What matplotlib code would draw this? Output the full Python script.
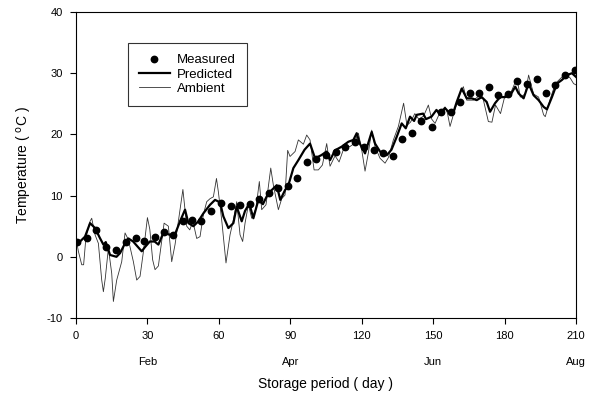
import matplotlib
matplotlib.use("Agg")
import matplotlib.pyplot as plt

plt.rcParams['font.family'] = ['Liberation Sans', 'DejaVu Sans']
plt.rcParams['axes.unicode_minus'] = False

# measured points (day, temperature)
meas_day = [0.5, 4.5, 8.5, 12.5, 17, 21, 25, 28.7, 33, 37, 40.6, 44.8, 48.7,
            52.7, 56.8, 60.8, 65, 69, 73, 77, 81, 85, 89, 93, 97, 101, 105,
            109, 113, 117, 121, 125, 129, 133, 137, 141, 145, 149.5, 153.5,
            157.3, 161.3, 165.3, 169.2, 173.3, 177.4, 181.4, 185.4, 189.6,
            193.6, 197.5, 201.3, 205.3, 209.5]
meas_temp = [2.5, 3.1, 4.4, 1.6, 1.1, 2.5, 3.0, 2.6, 3.2, 4.0, 3.5, 5.8, 6.0,
             5.8, 7.5, 8.8, 8.3, 8.5, 8.7, 9.4, 10.4, 11.3, 11.6, 12.8, 15.5,
             16.0, 16.7, 17.2, 18.0, 18.8, 18.0, 17.4, 17.0, 16.5, 19.2, 20.2,
             22.2, 21.2, 23.7, 23.6, 25.3, 26.7, 26.8, 27.7, 26.5, 26.6, 28.8,
             28.3, 29.0, 26.8, 28.1, 29.7, 30.6]

# predicted storage temperature
pred_day = [0, 1.7, 3.8, 5.9, 8, 10, 11.5, 12.5, 14.3, 17, 18.5, 20.6, 22, 24,
            27.6, 29, 31, 33, 34.6, 36.7, 39.5, 41.5, 43.7, 45.8, 47.2, 49.3,
            51.4, 53.5, 56.3, 58.4, 60.5, 61.9, 64, 66.1, 67.5, 69.6, 71, 72.8,
            74.5, 76.6, 78.5, 80.4, 82.2, 84.3, 85.8, 87.8, 89.2, 91.3, 93.4,
            96, 98.3, 100.4, 103, 105.3, 106.7, 108.8, 111.6, 114.4, 116.5,
            117.9, 119.2, 121.4, 124.2, 125.6, 127.7, 130.5, 132.5, 134.7,
            136.8, 138.5, 140.3, 142, 143.1, 145.8, 147, 149.3, 151.4, 153,
            155, 157.1, 158.5, 159.9, 162, 164.1, 166.2, 168.3, 170.4, 172.5,
            173.9, 176, 178.1, 180.2, 182.4, 184.5, 185.9, 188, 190.1, 192.2,
            194.3, 196.4, 197.8, 199.9, 202, 204.1, 206.2, 208.3, 210]
pred_temp = [2.8, 2.5, 3.3, 5.5, 4.7, 3.1, 2.0, 2.4, 0.3, 0.0, 0.6, 2.2, 3.0,
             2.5, 0.9, 1.6, 2.5, 2.5, 2.0, 3.9, 3.6, 3.6, 5.8, 7.7, 5.5, 5.0,
             5.8, 7.1, 8.5, 9.3, 8.9, 6.6, 4.7, 5.5, 8.2, 5.8, 7.5, 8.7, 6.3,
             9.3, 8.6, 10.1, 10.9, 11.7, 9.3, 10.9, 11.7, 14.5, 15.8, 17.5,
             18.5, 16.1, 16.6, 17.2, 15.8, 17.4, 18.0, 18.8, 19.1, 20.2, 18.5,
             16.9, 20.4, 18.5, 17.2, 16.6, 17.5, 19.6, 21.8, 21.0, 22.9, 22.2,
             23.2, 23.4, 22.5, 22.9, 24.0, 23.2, 24.3, 23.4, 23.6, 25.3, 27.5,
             25.9, 25.9, 25.6, 26.1, 25.3, 23.7, 25.1, 26.1, 26.1, 26.4, 27.8,
             26.7, 25.9, 28.3, 26.4, 25.6, 24.5, 24.1, 26.1, 28.3, 28.9, 29.7,
             30.0, 29.4]

# ambient air temperature
amb_day = [0, 1, 2.4, 3.2, 4.2, 5.9, 6.6, 8, 9.4, 10.8, 11.5, 12.3, 13.6, 15,
           15.7, 17.1, 19.2, 20.6, 22, 24.1, 25.5, 26.9, 28.3, 30, 31, 32.2,
           33.2, 34.6, 37, 38.8, 40.2, 41.6, 43, 44.9, 46.5, 47.8, 49.1, 50.7,
           52.1, 53.5, 54.9, 56.3, 57.7, 59, 59.8, 61.2, 63, 64.7, 66.1, 67.5,
           68.9, 70, 71, 72.4, 73.8, 75.6, 77, 78, 79.8, 81.8, 82.9, 85, 86.4,
           87.8, 88.9, 89.9, 92, 93.4, 95.5, 96.9, 98.3, 100, 101.8, 103.5,
           105.3, 106.7, 108.8, 110.5, 113, 115, 116.8, 118.6, 120, 121.4,
           122.8, 124.2, 125.6, 127.7, 129.8, 131.2, 133.3, 135.4, 137.6, 139,
           140.5, 142.3, 144, 146, 148, 149.4, 150.8, 153, 155, 156, 157.1,
           158.5, 161.3, 162.7, 164.1, 166.9, 169, 171, 173.2, 174.7, 176.2,
           178.3, 180.2, 182.4, 185.2, 186.6, 188.7, 190.1, 192.2, 194.3,
           196.4, 197.1, 199.2, 201.3, 203.4, 205.5, 207.6, 209, 210]
amb_temp = [3.0, 0.9, -1.3, -1.3, 3.3, 5.8, 6.3, 3.6, 2.2, -3.8, -5.7, -3.5,
            1.4, -2.7, -7.3, -3.8, -0.8, 3.9, 2.8, -0.8, -3.8, -3.2, 0.8, 6.4,
            4.5, -0.5, -2.1, -1.5, 5.5, 5.0, -0.8, 2.0, 5.8, 11.0, 5.0, 4.4,
            5.8, 3.0, 3.3, 6.9, 9.0, 9.5, 9.8, 12.8, 10.6, 6.0, -1.0, 3.6, 6.0,
            9.0, 3.6, 2.5, 5.5, 8.5, 6.3, 7.9, 12.3, 7.7, 8.5, 14.5, 11.7, 7.7,
            9.5, 10.1, 17.4, 16.4, 17.2, 19.1, 18.4, 19.9, 19.1, 14.2, 14.2,
            15.0, 18.5, 14.8, 16.5, 15.5, 18.3, 18.0, 18.5, 20.2, 17.5, 14.0,
            17.0, 20.7, 18.0, 16.1, 15.3, 16.2, 19.1, 21.3, 25.1, 21.5, 22.0,
            23.4, 22.5, 23.0, 24.8, 22.5, 21.8, 23.7, 24.5, 23.5, 21.3, 23.2,
            26.7, 27.8, 25.6, 25.6, 26.2, 25.8, 22.1, 22.0, 24.8, 23.4, 26.4,
            26.6, 29.2, 26.1, 26.6, 29.7, 26.6, 26.1, 23.2, 22.9, 25.8, 28.3,
            29.1, 29.9, 29.2, 28.3, 28.1]

x_ticks = [0, 30, 60, 90, 120, 150, 180, 210]
y_ticks = [-10, 0, 10, 20, 30, 40]
month_days = [30, 90, 150, 210]
month_names = ["Feb", "Apr", "Jun", "Aug"]

fig = plt.figure(figsize=(5.97, 4.01), dpi=100)
ax = fig.add_axes([0.1273, 0.207, 0.8375, 0.763])

ax.plot(amb_day, amb_temp, '-', color='#333333', lw=0.6, label='Ambient')
ax.plot(pred_day, pred_temp, '-', color='black', lw=1.6, label='Predicted')
ax.plot(meas_day, meas_temp, 'o', color='black', ms=4.6, label='Measured')

ax.set_xlim(0, 210)
ax.set_ylim(-10, 40)
ax.set_xticks(x_ticks)
ax.set_yticks(y_ticks)
ax.tick_params(direction='out', length=4.5, width=0.8, labelsize=8, pad=5)
for s in ax.spines.values():
    s.set_linewidth(0.8)

for d, m in zip(month_days, month_names):
    ax.text(d, -0.145, m, transform=ax.get_xaxis_transform(),
            ha='center', va='center', fontsize=8)

ax.set_xlabel("Storage period ( day )", fontsize=10, labelpad=26)
ax.set_ylabel("Temperature ( $^{\\rm o}$C )", fontsize=10, labelpad=9)

h, l = ax.get_legend_handles_labels()
order = [2, 1, 0]
leg = ax.legend([h[i] for i in order], [l[i] for i in order],
                loc='upper left', bbox_to_anchor=(0.104, 0.899),
                borderaxespad=0, fontsize=9.5, frameon=True, fancybox=False,
                edgecolor='black', handlelength=2.3, handletextpad=0.55,
                labelspacing=0.15, borderpad=0.85)
leg.get_frame().set_linewidth(0.8)

plt.savefig("out.png", dpi=100)
